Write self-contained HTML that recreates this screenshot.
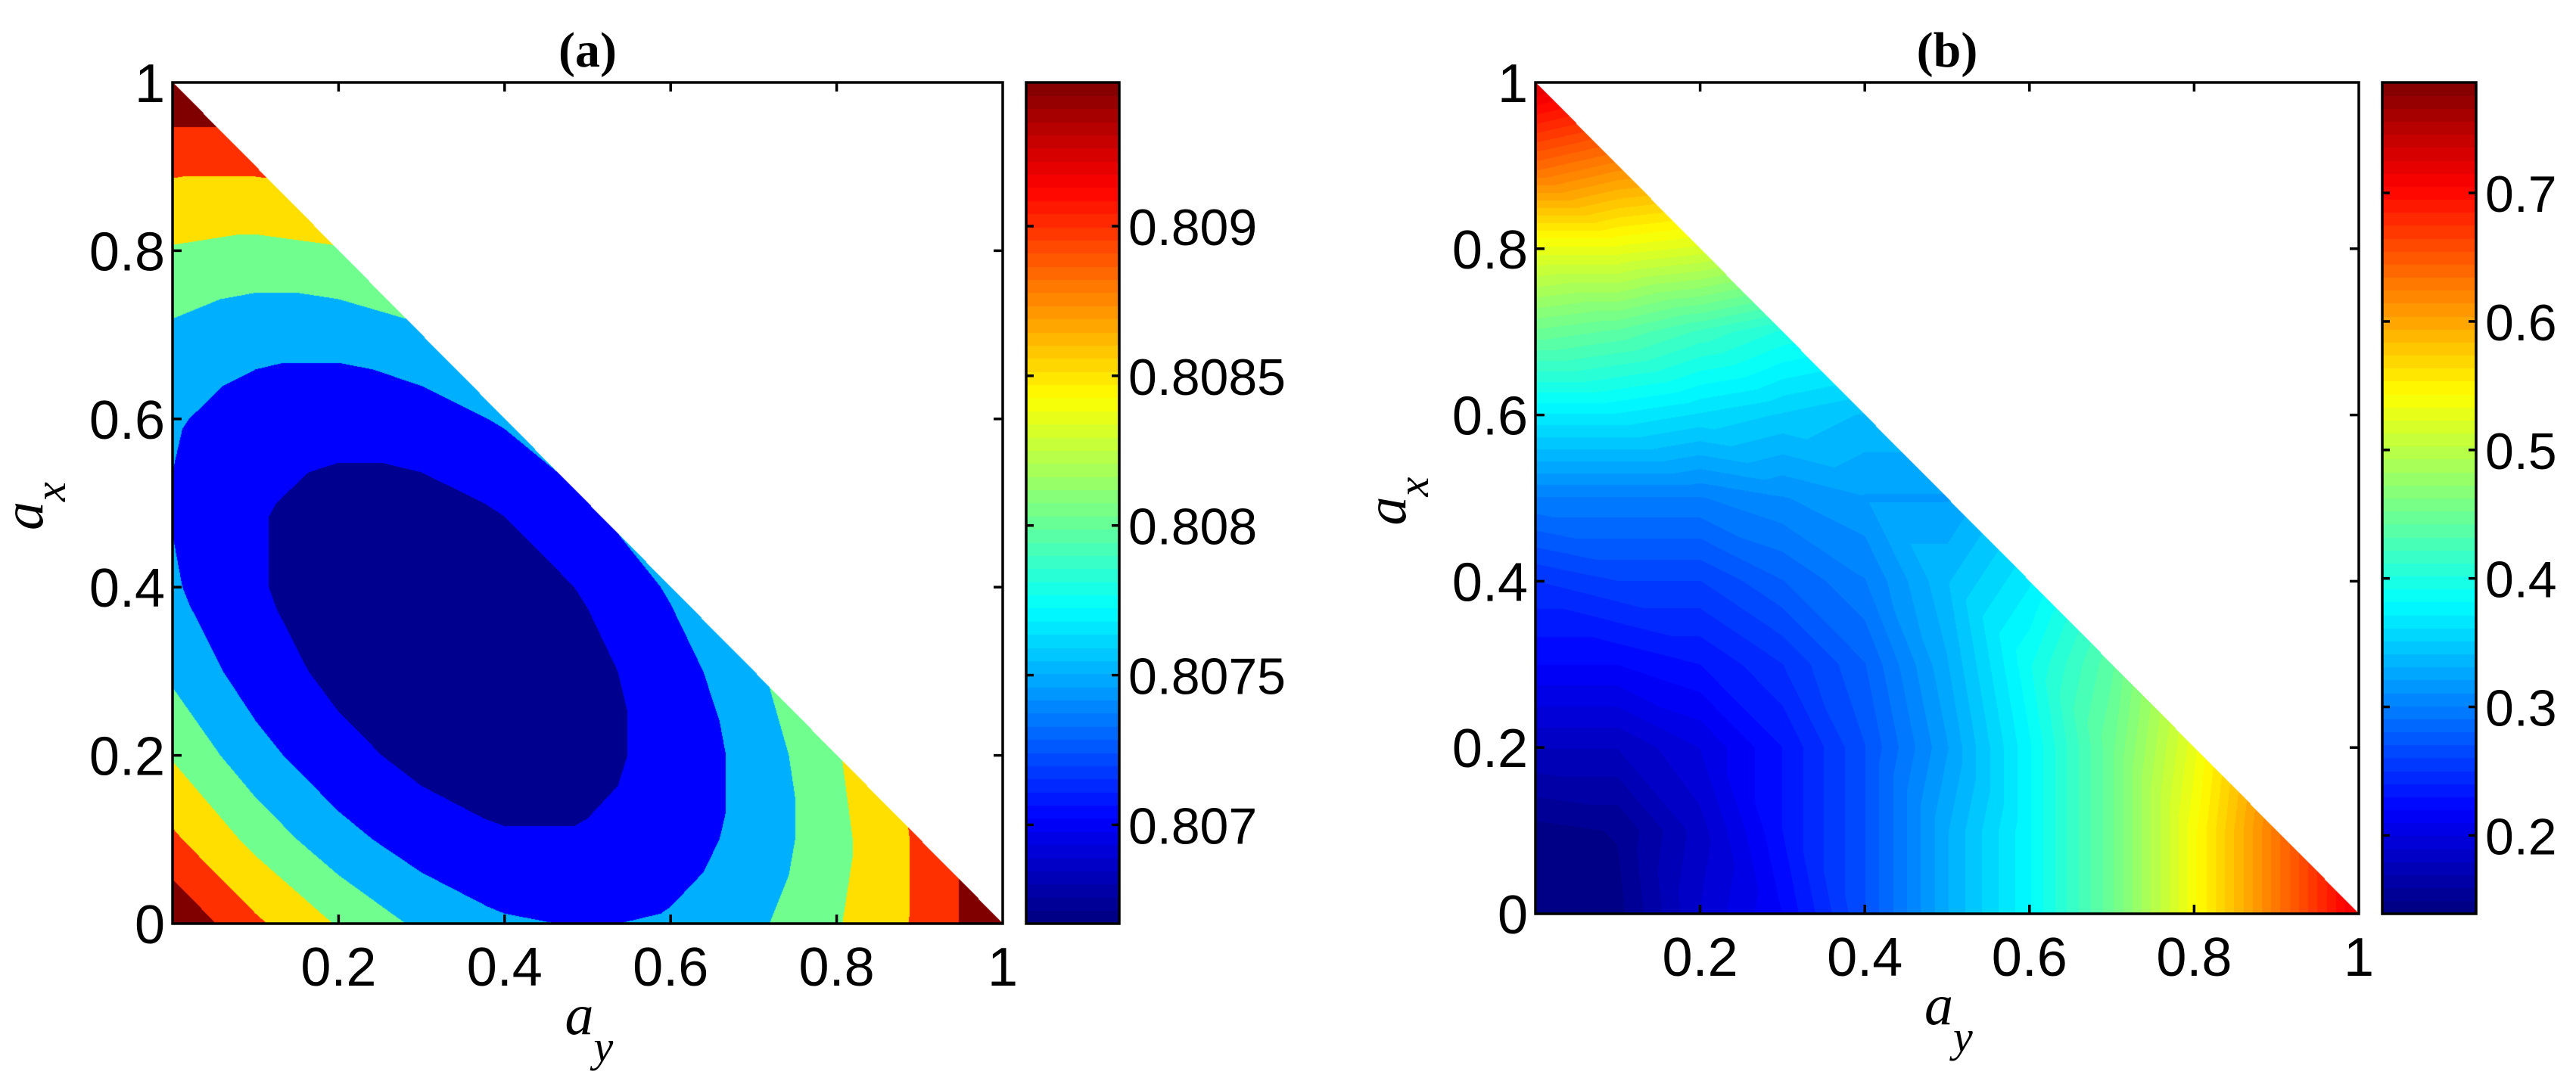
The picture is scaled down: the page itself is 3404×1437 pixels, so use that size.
<!DOCTYPE html>
<html><head><meta charset="utf-8">
<style>
html,body{margin:0;padding:0;background:#fff;}
#wrap{position:relative;width:3404px;height:1437px;overflow:hidden;background:#fff;}
canvas{position:absolute;}
svg{position:absolute;left:0;top:0;}
</style></head>
<body>
<div id="wrap">
<canvas id="fillA"></canvas>
<canvas id="fillB"></canvas>
<canvas id="cbA"></canvas>
<canvas id="cbB"></canvas>
<svg id="ov" width="3404" height="1437"></svg>
</div>
<script>
// ---- data: grids indexed [ax index i][ay index j], step 0.1, i+j<=10 ----
const gridStep = 0.1;
const zA = [
 [0.80947,0.80871,0.80813,0.80771,0.80745,0.80737,0.80745,0.80771,0.80813,0.80871,0.80947],
 [0.80871,0.80804,0.80754,0.80720,0.80703,0.80703,0.80720,0.80754,0.80804,0.80871],
 [0.80813,0.80754,0.80712,0.80687,0.80678,0.80687,0.80712,0.80754,0.80813],
 [0.80771,0.80720,0.80687,0.80670,0.80670,0.80687,0.80720,0.80771],
 [0.80745,0.80703,0.80678,0.80670,0.80678,0.80703,0.80745],
 [0.80737,0.80703,0.80687,0.80687,0.80703,0.80737],
 [0.80745,0.80720,0.80712,0.80720,0.80745],
 [0.80771,0.80754,0.80754,0.80771],
 [0.80813,0.80804,0.80813],
 [0.80871,0.80871],
 [0.80947]
];
const levelsA = [0.80699,0.80740,0.80779,0.80817,0.80863,0.80907];
const colorsA = ["#00008F","#0000FF","#00B0FF","#70FF8F","#FFDF00","#FF3000","#800000"];
const zB = [
 [0.14,0.145,0.19,0.22,0.27,0.33,0.38,0.45,0.54,0.63,0.72],
 [0.145,0.15,0.185,0.23,0.27,0.33,0.38,0.45,0.54,0.63],
 [0.18,0.18,0.20,0.23,0.27,0.32,0.38,0.45,0.53],
 [0.22,0.22,0.23,0.25,0.28,0.33,0.39,0.44],
 [0.25,0.26,0.26,0.28,0.30,0.34,0.37],
 [0.30,0.30,0.30,0.31,0.32,0.32],
 [0.37,0.37,0.36,0.35,0.34],
 [0.45,0.44,0.42,0.40],
 [0.53,0.53,0.52],
 [0.64,0.62],
 [0.73]
];
const rangeA = [0.80667,0.80948];
const rangeB = [0.139,0.786];
const axisTicks = [0,0.2,0.4,0.6,0.8,1];
const axisTickLabels = ["0","0.2","0.4","0.6","0.8","1"];
const cbTicksA = [0.807,0.8075,0.808,0.8085,0.809];
const cbTickLabelsA = ["0.807","0.8075","0.808","0.8085","0.809"];
const cbTicksB = [0.2,0.3,0.4,0.5,0.6,0.7];
const cbTickLabelsB = ["0.2","0.3","0.4","0.5","0.6","0.7"];

const panels = {
 a:{L:228,R:1325,T:109,B:1221,cbL:1356,cbR:1479,title:"(a)"},
 b:{L:2029,R:3117,T:109,B:1208,cbL:3148,cbR:3272,title:"(b)"}
};

function jet(t){
  t=Math.max(0,Math.min(1,t));
  const c=v=>Math.round(255*Math.max(0,Math.min(1,v)));
  return [c(1.5-Math.abs(4*t-3)),c(1.5-Math.abs(4*t-2)),c(1.5-Math.abs(4*t-1))];
}
function hexRgb(h){return [parseInt(h.substr(1,2),16),parseInt(h.substr(3,2),16),parseInt(h.substr(5,2),16)];}

function interp(g,ay,ax){
  const n=Math.round(1/gridStep);
  let i=Math.min(Math.floor(ax/gridStep),n-1), j=Math.min(Math.floor(ay/gridStep),n-1);
  if(i<0)i=0; if(j<0)j=0;
  let fx=ax/gridStep-i, fy=ay/gridStep-j;
  if(i+j>=n){
    if(j>0){j--;fy+=1;} else if(i>0){i--;fx+=1;}
  }
  if(fx+fy<=1 || i+j+2>n){
    const a=g[i][j], b=(g[i][j+1]!==undefined?g[i][j+1]:a), c=(g[i+1]&&g[i+1][j]!==undefined?g[i+1][j]:a);
    return a*(1-fx-fy)+b*fy+c*fx;
  }
  return g[i+1][j+1]*(fx+fy-1)+g[i+1][j]*(1-fy)+g[i][j+1]*(1-fx);
}

function drawFill(id,p,g,colorFn){
  const cv=document.getElementById(id);
  const w=p.R-p.L, h=p.B-p.T;
  cv.width=w; cv.height=h; cv.style.left=p.L+"px"; cv.style.top=p.T+"px";
  const ctx=cv.getContext("2d");
  const img=ctx.createImageData(w,h);
  for(let y=0;y<h;y++){
    const ax=1-(y+0.5)/h;
    for(let x=0;x<w;x++){
      const ay=(x+0.5)/w;
      const k=(y*w+x)*4;
      if(ax+ay>1.0005){img.data[k]=255;img.data[k+1]=255;img.data[k+2]=255;img.data[k+3]=255;continue;}
      const z=interp(g,Math.min(ay,1),Math.min(ax,1-ay));
      const c=colorFn(z);
      img.data[k]=c[0];img.data[k+1]=c[1];img.data[k+2]=c[2];img.data[k+3]=255;
    }
  }
  ctx.putImageData(img,0,0);
}
const rgbA=colorsA.map(hexRgb);
drawFill("fillA",panels.a,zA,z=>{let k=0;while(k<levelsA.length&&z>=levelsA[k])k++;return rgbA[k];});
drawFill("fillB",panels.b,zB,z=>{
  let t=(z-rangeB[0])/(rangeB[1]-rangeB[0]);
  let band=Math.max(0,Math.min(63,Math.floor(t*64)));
  return jet((band+0.5)/64);
});

function drawCb(id,p){
  const cv=document.getElementById(id);
  const w=p.cbR-p.cbL, h=p.B-p.T;
  cv.width=w; cv.height=h; cv.style.left=p.cbL+"px"; cv.style.top=p.T+"px";
  const ctx=cv.getContext("2d");
  for(let k=0;k<64;k++){
    const c=jet((k+0.5)/64);
    ctx.fillStyle="rgb("+c.join(",")+")";
    const y0=Math.floor(h-(k+1)*h/64), y1=Math.ceil(h-k*h/64);
    ctx.fillRect(0,y0,w,y1-y0);
  }
}
drawCb("cbA",panels.a); drawCb("cbB",panels.b);

const NS="http://www.w3.org/2000/svg";
const svg=document.getElementById("ov");
function el(tag,attrs,parent){const e=document.createElementNS(NS,tag);for(const k in attrs)e.setAttribute(k,attrs[k]);(parent||svg).appendChild(e);return e;}
const TL=12, LW=3.5;

function drawPanel(key,cbTicks,cbLabels,range){
  const p=panels[key];
  const g=el("g",{});
  
  
  const xs=v=>p.L+v*(p.R-p.L), ys=v=>p.B-v*(p.B-p.T);
  const frame=el("rect",{x:p.L,y:p.T,width:p.R-p.L,height:p.B-p.T,fill:"none",stroke:"#000","stroke-width":LW},g);
  
  
  axisTicks.forEach((v,idx)=>{
    if(v>0&&v<1){
      el("line",{x1:xs(v),x2:xs(v),y1:p.B,y2:p.B-TL,stroke:"#000","stroke-width":LW},g);
      el("line",{x1:xs(v),x2:xs(v),y1:p.T,y2:p.T+TL,stroke:"#000","stroke-width":LW},g);
      el("line",{x1:p.L,x2:p.L+TL,y1:ys(v),y2:ys(v),stroke:"#000","stroke-width":LW},g);
      el("line",{x1:p.R,x2:p.R-TL,y1:ys(v),y2:ys(v),stroke:"#000","stroke-width":LW},g);
    }
    if(v>0){
      const t=el("text",{x:xs(v),y:p.B+82,"text-anchor":"middle","font-family":"Liberation Sans, sans-serif","font-size":72},g);
      t.textContent=axisTickLabels[idx];
      
      
    }
    const ty=el("text",{x:p.L-10,y:ys(v)+26,"text-anchor":"end","font-family":"Liberation Sans, sans-serif","font-size":72},g);
    ty.textContent=axisTickLabels[idx];
    
    
  });
  const title=el("text",{x:(p.L+p.R)/2,y:88,"text-anchor":"middle","font-family":"Liberation Serif, serif","font-weight":"bold","font-size":66},g);
  title.textContent=p.title;
  
  
  const xl=el("text",{x:(p.L+p.R)/2-30,y:p.B+146,"font-family":"Liberation Serif, serif","font-style":"italic","font-size":76},g);
  
  
  const a1=el("tspan",{},xl);a1.textContent="a";
  const s1=el("tspan",{dy:36,"font-size":58},xl);s1.textContent="y";
  const yl=el("text",{x:0,y:0,"font-family":"Liberation Serif, serif","font-style":"italic","font-size":76,transform:"translate("+(p.L-172)+","+((p.T+p.B)/2+36)+") rotate(-90)"},g);
  
  
  const a2=el("tspan",{},yl);a2.textContent="a";
  const s2=el("tspan",{dy:30,"font-size":58},yl);s2.textContent="x";
  const cf=el("rect",{x:p.cbL,y:p.T,width:p.cbR-p.cbL,height:p.B-p.T,fill:"none",stroke:"#000","stroke-width":LW},g);
  
  
  const cy=v=>p.B-(v-range[0])/(range[1]-range[0])*(p.B-p.T);
  cbTicks.forEach((v,idx)=>{
    const y=cy(v);
    el("line",{x1:p.cbL,x2:p.cbL+10,y1:y,y2:y,stroke:"#000","stroke-width":LW},g);
    el("line",{x1:p.cbR,x2:p.cbR-10,y1:y,y2:y,stroke:"#000","stroke-width":LW},g);
    const t=el("text",{x:p.cbR+12,y:y+25,"font-family":"Liberation Sans, sans-serif","font-size":68},g);
    t.textContent=cbLabels[idx];
    
    
  });
}
drawPanel("a",cbTicksA,cbTickLabelsA,rangeA);
drawPanel("b",cbTicksB,cbTickLabelsB,rangeB);
</script>
</body></html>
